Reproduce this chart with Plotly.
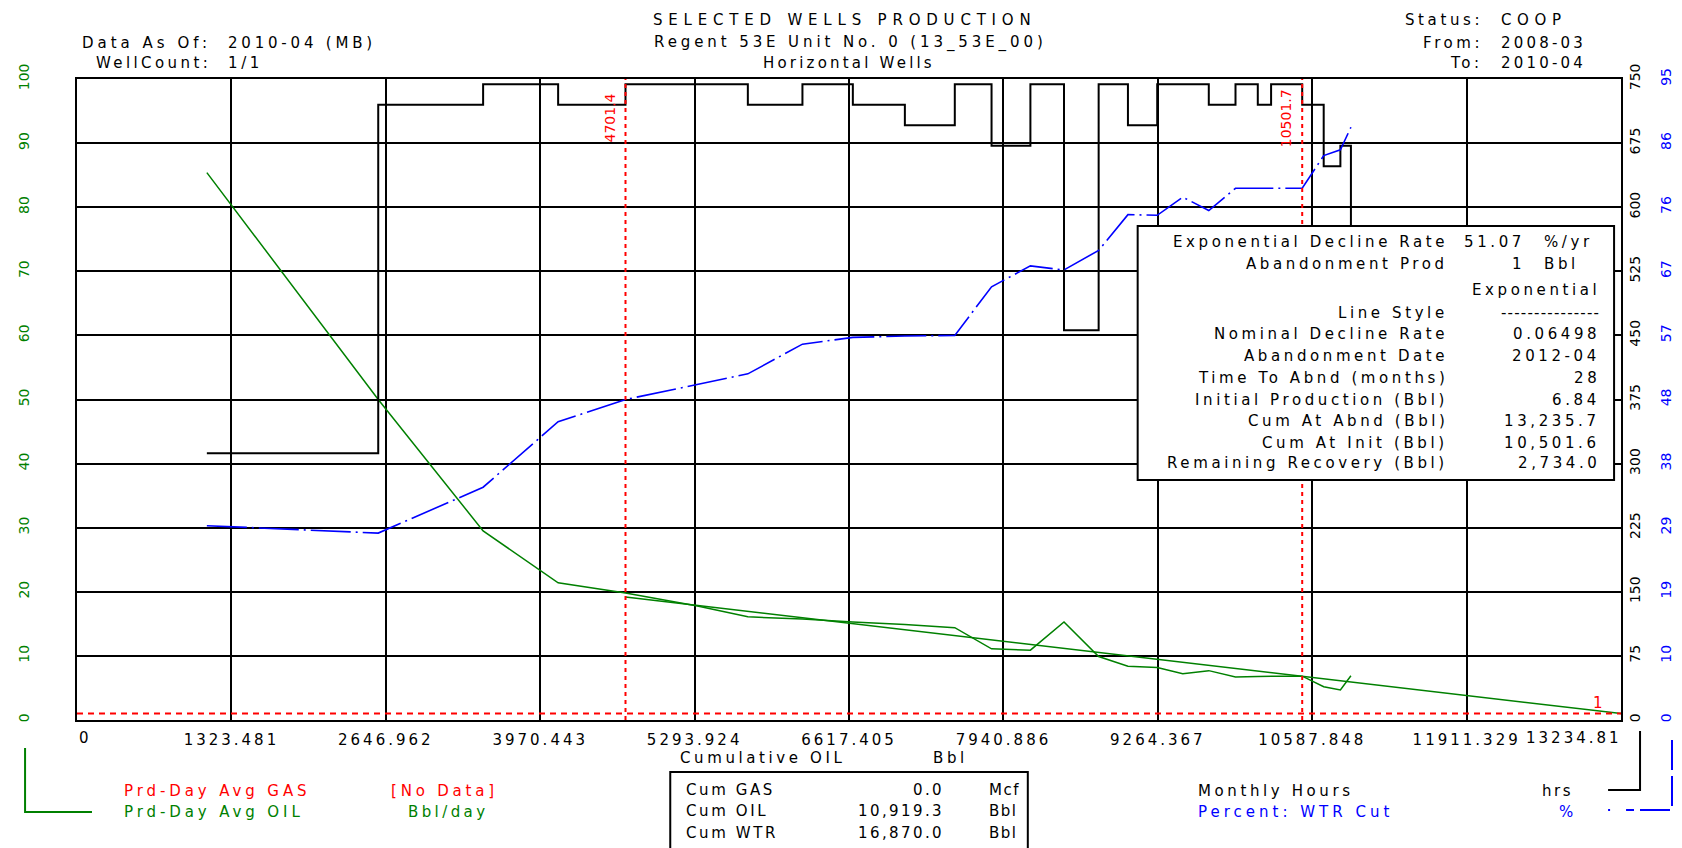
import plotly.graph_objects as go

# ---------------- data ----------------
month_cum = [1113, 2582, 3481, 4124, 4701.4, 5318, 5750, 6218, 6650, 7096, 7524, 7839, 8172,
             8460, 8757, 9008, 9259, 9478, 9701, 9930, 10121, 10235, 10501.7, 10686, 10829, 10919.3]
monthly_hours = [312, 720, 744, 720, 744, 744, 720, 744, 720, 696, 744, 672, 744,
                 456, 744, 696, 744, 744, 720, 744, 720, 744, 720, 648, 672, 312]
oil_rate = [85.4, 50.0, 29.5, 21.4, 19.8, 17.8, 16.1, 15.75, 15.3, 14.9, 14.4, 11.1, 10.9,
            15.3, 9.9, 8.4, 8.2, 7.2, 7.7, 6.7, 6.8, 6.8, 6.84, 5.2, 4.7, 6.9]
wtr_cut = [28.8, 27.7, 34.5, 44.2, 47.5, 49.7, 51.3, 55.7, 56.7, 56.9, 57.0, 64.2, 67.3,
           66.7, 69.6, 74.9, 74.8, 77.5, 75.5, 78.8, 78.8, 78.8, 78.8, 83.65, 84.5, 87.85]

fit_cum = [4701.4, 10501.6, 13235.7]
fit_rate = [19.2, 6.84, 1.0]

marker_cum = [4701.4, 10501.7]
marker_labels = ["4701.4", "10501.7"]
abandon_rate = 1

x_tick_vals = [0, 1323.481, 2646.962, 3970.443, 5293.924, 6617.405, 7940.886, 9264.367,
               10587.848, 11911.329, 13234.81]
x_tick_text = ["0", "1323.481", "2646.962", "3970.443", "5293.924", "6617.405", "7940.886",
               "9264.367", "10587.848", "11911.329", "13234.81"]
x_max = 13234.81

oil_ticks = [0, 10, 20, 30, 40, 50, 60, 70, 80, 90, 100]
hours_ticks = [0, 75, 150, 225, 300, 375, 450, 525, 600, 675, 750]
wtr_tick_vals = [0, 9.5, 19, 28.5, 38, 47.5, 57, 66.5, 76, 85.5, 95]
wtr_tick_text = ["0", "10", "19", "29", "38", "48", "57", "67", "76", "86", "95"]

info_labels = ["Exponential Decline Rate", "Abandonment Prod", "", "Line Style",
               "Nominal Decline Rate", "Abandonment Date", "Time To Abnd (months)",
               "Initial Production (Bbl)", "Cum At Abnd (Bbl)", "Cum At Init (Bbl)",
               "Remaining Recovery (Bbl)"]
info_values = ["51.07", "1", "Exponential", "---------------", "0.06498", "2012-04", "28",
               "6.84", "13,235.7", "10,501.6", "2,734.0"]
info_units = ["%/yr", "Bbl"]

cum_labels = ["Cum GAS", "Cum OIL", "Cum WTR"]
cum_values = ["0.0", "10,919.3", "16,870.0"]
cum_units = ["Mcf", "Bbl", "Bbl"]

# ---------------- layout helpers (screen pixel coordinates) ----------------
OFF = 8                      # default page margin around the plot div
W, H = 1682 - OFF, 848 - OFF
L, R, T, B = 68, 8, 71, 128  # plot area on screen: x 76..1622, y 79..720
PLOT_RIGHT = 1622
PW = W - L - R
PH = H - T - B
FONT = "DejaVu Sans"
GREEN = "#008000"
BLUE = "#0000ff"
RED = "#ff0000"


def fx(px):
    return (px - OFF - L) / PW


def fy(py):
    return (H - B - (py - OFF)) / PH


def sp(s, ls=3.6):
    return f'<span style="letter-spacing:{ls}px">{s}</span>'


ann = []


def txt(px, py, s, color="black", size=15, anchor="left", ls=3.6):
    ann.append(dict(x=fx(px), y=fy(py), xref="paper", yref="paper", text=sp(s, ls) if ls else s,
                    showarrow=False, xanchor=anchor, yanchor="middle",
                    font=dict(family=FONT, size=size, color=color)))


# header
txt(844, 20, "SELECTED WELLS PRODUCTION", anchor="center", ls=5.8)
txt(850, 43, "Regent 53E Unit No. 0 (13_53E_00)", anchor="center", ls=3.9)
txt(849, 63, "Horizontal Wells", anchor="center", ls=3.2)
txt(212, 43, "Data As Of:", anchor="right", ls=4)
txt(225, 43, "2010-04 (MB)", ls=3.8)
txt(212, 63, "WellCount:", anchor="right", ls=3.4)
txt(225, 63, "1/1")
txt(1486, 20, "Status:", anchor="right")
txt(1500, 20, "COOP", ls=5.6)
txt(1486, 43, "From:", anchor="right")
txt(1500, 43, "2008-03", ls=3.2)
txt(1486, 63, "To:", anchor="right")
txt(1500, 63, "2010-04", ls=3.2)

# info box text
info_rows = [242, 264, 290, 313, 334, 356, 378, 400, 421, 443, 463]
for i, y in enumerate(info_rows):
    if info_labels[i]:
        txt(1451, y, info_labels[i], anchor="right")
    if i < 2:
        txt(1528, y, info_values[i], anchor="right")
        txt(1543, y, info_units[i])
    else:
        txt(1603, y, info_values[i], anchor="right", ls=3.6 if i != 3 else 1.2)

# bottom area
txt(678, 758, "Cumulative OIL")
txt(931, 758, "Bbl")
for i, y in enumerate([790, 811, 833]):
    txt(684, y, cum_labels[i], ls=2.6)
    txt(946, y, cum_values[i], anchor="right", ls=2.4)
    txt(987, y, cum_units[i], ls=1.5)
txt(121, 791, "Prd-Day Avg GAS", color=RED, ls=3.9)
txt(388, 791, "[No Data]", color=RED, ls=3.8)
txt(121, 812, "Prd-Day Avg OIL", color=GREEN, ls=3.9)
txt(405, 812, "Bbl/day", color=GREEN, ls=3.4)
txt(1196, 791, "Monthly Hours", ls=3.6)
txt(1541, 791, "hrs", ls=2.6)
txt(1196, 812, "Percent: WTR Cut", color=BLUE, ls=4.0)
txt(1558, 812, "%", color=BLUE, ls=0)

# end tick labels of the x axis kept inside the frame
ann.append(dict(x=x_tick_vals[0], y=fy(738), xref="x", yref="paper", text=x_tick_text[0],
                showarrow=False, xanchor="left", yanchor="middle",
                font=dict(family=FONT, size=15, color="black")))
ann.append(dict(x=x_tick_vals[-1], y=fy(738), xref="x", yref="paper", text=sp(x_tick_text[-1], 3),
                showarrow=False, xanchor="right", yanchor="middle", xshift=3,
                font=dict(family=FONT, size=15, color="black")))

# red marker labels
for c, lab in zip(marker_cum, marker_labels):
    ann.append(dict(x=c, y=fy(118), xref="x", yref="paper", text=lab, showarrow=False,
                    textangle=-90, xshift=-16, xanchor="center", yanchor="middle",
                    font=dict(family=FONT, size=14, color=RED)))
ann.append(dict(x=fx(1599), y=fy(703), xref="paper", yref="paper", text=str(abandon_rate),
                showarrow=False, xanchor="center", yanchor="middle",
                font=dict(family=FONT, size=15, color=RED)))

# ---------------- shapes ----------------
shapes = []
for c in marker_cum:
    shapes.append(dict(type="line", xref="x", yref="y domain", x0=c, x1=c, y0=0, y1=1,
                       line=dict(color=RED, width=2, dash="4px,4px"), layer="above"))
shapes.append(dict(type="line", xref="x", yref="y", x0=0, x1=x_max, y0=abandon_rate, y1=abandon_rate,
                   line=dict(color=RED, width=2, dash="6px,5px"), layer="above"))
# info box
shapes.append(dict(type="rect", xref="paper", yref="paper", x0=fx(1138), x1=fx(1615),
                   y0=fy(480), y1=fy(226), fillcolor="white", line=dict(color="black", width=2),
                   layer="above"))
# cum box at the bottom
shapes.append(dict(type="rect", xref="paper", yref="paper", x0=fx(670), x1=fx(1028),
                   y0=fy(860), y1=fy(772), fillcolor="white", line=dict(color="black", width=2),
                   layer="above"))


def pline(pts, color, dash="solid", width=2):
    path = "M " + " L ".join(f"{fx(a)},{fy(b)}" for a, b in pts)
    shapes.append(dict(type="path", xref="paper", yref="paper", path=path,
                       line=dict(color=color, width=width, dash=dash), layer="above"))


pline([(24, 748), (24, 812), (91, 812)], GREEN)
pline([(1641, 731), (1641, 790), (1609, 790)], "black")
pline([(1673, 740), (1673, 810), (1627, 810)], BLUE, dash="30px,6px")
pline([(1609, 810), (1611, 810)], BLUE)

# ---------------- figure ----------------
fig = go.Figure()
fig.add_trace(go.Scatter(x=month_cum, y=monthly_hours, yaxis="y2", mode="lines",
                         line=dict(color="black", width=2, shape="hv"), showlegend=False))
fig.add_trace(go.Scatter(x=month_cum, y=wtr_cut, yaxis="y3", mode="lines",
                         line=dict(color=BLUE, width=1.6, dash="40px,5px,2px,5px"), showlegend=False))
fig.add_trace(go.Scatter(x=fit_cum, y=fit_rate, yaxis="y", mode="lines",
                         line=dict(color=GREEN, width=1.5), showlegend=False))
fig.add_trace(go.Scatter(x=month_cum, y=oil_rate, yaxis="y", mode="lines",
                         line=dict(color=GREEN, width=1.5), showlegend=False))

xdom_end = fx(PLOT_RIGHT)
fig.update_layout(
    width=W, height=H,
    margin=dict(l=L, r=R, t=T, b=B, pad=0),
    paper_bgcolor="white", plot_bgcolor="white",
    showlegend=False,
    font=dict(family=FONT, size=15, color="black"),
    xaxis=dict(domain=[0, xdom_end], range=[0, x_max], tickmode="array",
               tickvals=x_tick_vals[1:-1], ticktext=[sp(t, 3) for t in x_tick_text[1:-1]],
               showgrid=True, gridcolor="black", gridwidth=2, zeroline=False,
               showline=True, linecolor="black", linewidth=2, mirror=True, ticks="",
               ticklabelstandoff=5, tickfont=dict(family=FONT, size=15, color="black")),
    yaxis=dict(range=[0, 100], tickmode="array", tickvals=oil_ticks,
               showgrid=True, gridcolor="black", gridwidth=2, zeroline=False,
               showline=True, linecolor="black", linewidth=2, mirror=True, ticks="",
               tickangle=-90, ticklabelstandoff=40,
               tickfont=dict(family=FONT, size=14, color=GREEN)),
    yaxis2=dict(range=[0, 750], overlaying="y", side="right", anchor="x", tickmode="array",
                tickvals=hours_ticks, showgrid=False, zeroline=False, showline=False, ticks="",
                tickangle=-90, ticklabelstandoff=4,
                tickfont=dict(family=FONT, size=14, color="black")),
    yaxis3=dict(range=[0, 95], overlaying="y", side="right", anchor="free", position=fx(1655),
                tickmode="array", tickvals=wtr_tick_vals, ticktext=wtr_tick_text,
                showgrid=False, zeroline=False, showline=False, ticks="",
                tickangle=-90, ticklabelstandoff=2,
                tickfont=dict(family=FONT, size=14, color=BLUE)),
    annotations=ann,
    shapes=shapes,
)

fig.write_html("out.html")
